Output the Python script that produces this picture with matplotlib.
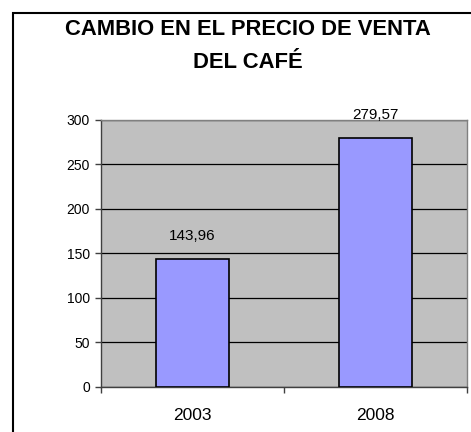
import matplotlib
matplotlib.use("Agg")
from matplotlib import pyplot as plt
from matplotlib.patches import Rectangle

years = ["2003", "2008"]
prices = [143.96, 279.57]
price_labels = ["143,96", "279,57"]
yticks = [0, 50, 100, 150, 200, 250, 300]
title_lines = ["CAMBIO EN EL PRECIO DE VENTA", "DEL CAFÉ"]

plt.rcParams['font.family'] = ['Liberation Sans', 'DejaVu Sans']

fig = plt.figure(figsize=(4.71, 4.32), dpi=100)
ax = fig.add_axes([101 / 471, 1 - 387 / 432, 366 / 471, 267.5 / 432])

ax.set_facecolor('#c0c0c0')
x = list(range(len(years)))
ax.bar(x, prices, width=0.4, color='#9999ff', edgecolor='black', linewidth=1.2, zorder=3)
for xi, v, lab in zip(x, prices, price_labels):
    ax.annotate(lab, (xi, v), xytext=(0, 11), textcoords='offset points',
                ha='center', va='bottom', fontsize=11)

ax.set_xlim(-0.5, 1.5)
ax.set_ylim(0, 300)
ax.set_yticks(yticks)
ax.yaxis.grid(True, color='black', linewidth=0.9, zorder=1)
ax.set_axisbelow(True)

# category boundary ticks, labels centred under the bars
ax.set_xticks([-0.5, 0.5, 1.5])
ax.set_xticklabels([])
ax.set_xticks(x, minor=True)
ax.set_xticklabels(years, minor=True, fontsize=12.5)
ax.tick_params(axis='x', which='minor', length=0, pad=15)
ax.tick_params(axis='x', which='major', length=4, width=1, color='#404040')
ax.tick_params(axis='y', length=4, width=1, color='#404040', pad=4, labelsize=10)

for s in ['top', 'right']:
    ax.spines[s].set_color('#808080')
for s in ['left', 'bottom']:
    ax.spines[s].set_color('#404040')
for s in ax.spines.values():
    s.set_linewidth(1)

for i, line in enumerate(title_lines):
    fig.text(248 / 471, 1 - (35 + 33 * i) / 432, line, ha='center', va='baseline',
             fontsize=15.8, fontweight='bold')

border = Rectangle((12.5 / 471, -0.1), 1.0, 1.1 - 13 / 432, transform=fig.transFigure,
                   fill=False, edgecolor='black', linewidth=1.5)
fig.patches.append(border)

plt.savefig("out.png", dpi=100)
